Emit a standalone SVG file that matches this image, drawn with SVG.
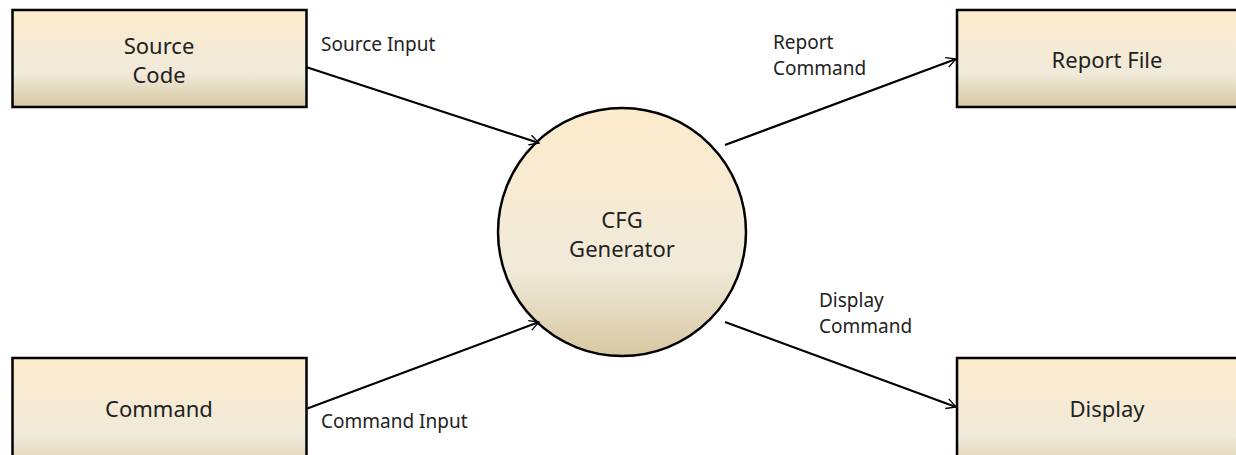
<svg xmlns="http://www.w3.org/2000/svg" width="1236" height="455" viewBox="0 0 1236 455">
<defs>
<linearGradient id="g" x1="0" y1="0" x2="0" y2="1">
<stop offset="0" stop-color="#fdebcb"/>
<stop offset="0.65" stop-color="#f0eada"/>
<stop offset="1" stop-color="#d8c8a2"/>
</linearGradient>
<marker id="arr" viewBox="0 0 20 20" refX="18" refY="10" markerWidth="12" markerHeight="12" markerUnits="userSpaceOnUse" orient="auto" overflow="visible">
<path d="M2,1.5 L18,10 L2,18.5" fill="none" stroke="#000" stroke-width="2.2"/>
</marker>
<style>
.box{fill:url(#g);stroke:#000;stroke-width:2.5}
.t{font-family:"Noto Sans","Open Sans",sans-serif;font-size:22px;fill:#222;text-anchor:middle}
.l{font-family:"Noto Sans","Open Sans",sans-serif;font-size:19px;fill:#222}
.c{fill:none;stroke:#000;stroke-width:2.2;marker-end:url(#arr)}
</style>
</defs>
<rect width="1236" height="455" fill="#fff"/>
<g id="source-code">
<rect class="box" x="12.5" y="10" width="294" height="97"/>
<text class="t" x="159" y="54">Source</text>
<text class="t" x="159" y="83">Code</text>
</g>
<g id="report-file">
<rect class="box" x="957" y="10" width="300" height="97"/>
<text class="t" x="1107" y="68">Report File</text>
</g>
<g id="command">
<rect class="box" x="12.5" y="358" width="294" height="120"/>
<text class="t" x="159" y="417">Command</text>
</g>
<g id="display">
<rect class="box" x="957" y="358" width="300" height="120"/>
<text class="t" x="1107" y="417">Display</text>
</g>
<g id="cfg-generator">
<circle class="box" cx="622" cy="232" r="124"/>
<text class="t" x="622" y="228">CFG</text>
<text class="t" x="622" y="257">Generator</text>
</g>
<g id="connectors">
<line class="c" x1="306" y1="67" x2="539" y2="143"/>
<line class="c" x1="725" y1="145" x2="956" y2="59"/>
<line class="c" x1="306" y1="409" x2="539" y2="322"/>
<line class="c" x1="725" y1="322" x2="956" y2="407"/>
</g>
<g id="labels">
<text class="l" x="321" y="51">Source Input</text>
<text class="l" x="773" y="49">Report</text>
<text class="l" x="773" y="75">Command</text>
<text class="l" x="321" y="428">Command Input</text>
<text class="l" x="819" y="307">Display</text>
<text class="l" x="819" y="333">Command</text>
</g>
</svg>
